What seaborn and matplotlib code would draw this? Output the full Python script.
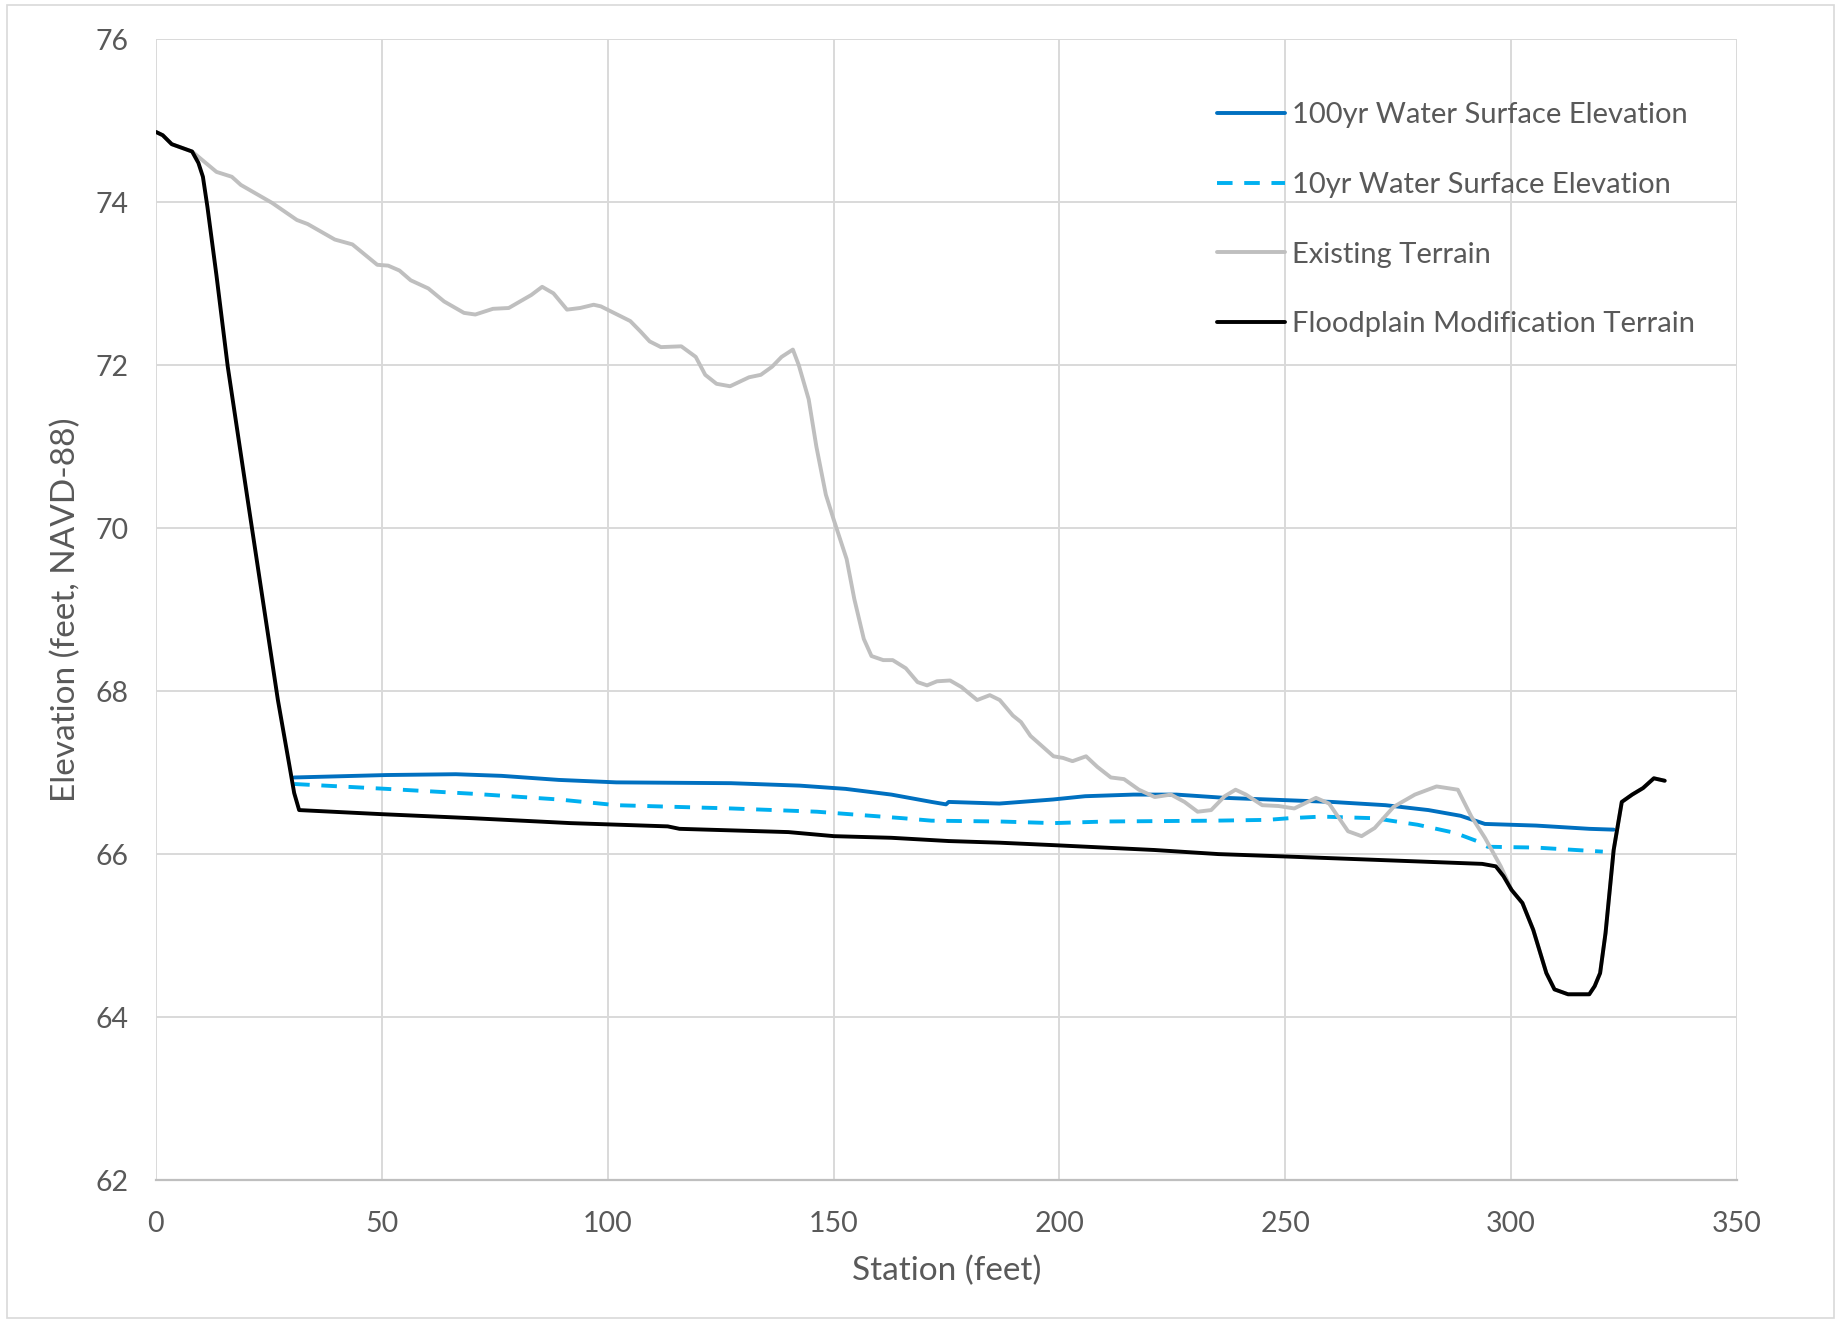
import matplotlib
matplotlib.use('Agg')
import matplotlib.pyplot as plt
import seaborn as sns
import pandas as pd
from matplotlib.patches import Rectangle

# Station / elevation values
existing_x = [0, 1.5, 3.5, 8, 13.4, 16.8, 18.8, 25.7, 31.2, 33.6, 39.6, 43.5, 49, 51.4, 53.9,
              56.4, 60.3, 63.8, 68.2, 70.7, 74.6, 78.1, 83.1, 85.5, 88, 91, 93.9, 96.9, 98.5,
              100.3, 105, 107.3, 109.3, 111.8, 116.3, 119.5, 121.6, 124.1, 127.1, 131.3, 133.9,
              136.4, 138.5, 141, 142.3, 144.5, 146.2, 148.3, 150, 152.9, 154.6, 156.7, 158.4,
              161, 163.1, 166, 168.6, 170.7, 172.9, 175.8, 178.3, 181.8, 184.6, 186.8, 189.7,
              191.5, 193.6, 198.7, 200.8, 202.9, 205.9, 208.4, 211.4, 214.3, 217.6, 221.1,
              224.7, 227.7, 230.6, 233.6, 236.6, 239, 241.3, 244.9, 248.5, 252, 256.8, 259.7,
              263.9, 266.9, 269.8, 274, 278.7, 283.5, 288.2, 291.2, 294.2, 297.7, 300.1, 302.5,
              304.9, 307.8, 309.6, 312.6, 317.3, 318.5, 319.7, 320.9, 322.7, 324.5, 326.8,
              329.2, 331.6, 334.0]
existing_y = [74.86, 74.82, 74.71, 74.62, 74.37, 74.31, 74.21, 73.99, 73.78, 73.73, 73.54, 73.48,
              73.23, 73.22, 73.16, 73.04, 72.94, 72.78, 72.64, 72.62, 72.69, 72.70, 72.86, 72.96,
              72.88, 72.68, 72.70, 72.74, 72.72, 72.67, 72.54, 72.41, 72.29, 72.22, 72.23, 72.10,
              71.88, 71.77, 71.74, 71.85, 71.88, 71.98, 72.10, 72.19, 72.0, 71.58, 71.0, 70.41,
              70.11, 69.62, 69.13, 68.64, 68.43, 68.38, 68.38, 68.28, 68.11, 68.07, 68.12, 68.13,
              68.05, 67.89, 67.95, 67.89, 67.70, 67.62, 67.45, 67.20, 67.18, 67.14, 67.20, 67.07,
              66.94, 66.92, 66.79, 66.70, 66.73, 66.64, 66.52, 66.54, 66.71, 66.79, 66.73, 66.60,
              66.59, 66.56, 66.69, 66.62, 66.28, 66.22, 66.32, 66.58, 66.73, 66.83, 66.79, 66.46,
              66.20, 65.85, 65.56, 65.40, 65.07, 64.54, 64.34, 64.28, 64.28, 64.38, 64.54, 65.03,
              66.05, 66.64, 66.73, 66.81, 66.93, 66.90]

modified_x = [0, 1.5, 3.5, 8, 9.4, 10.4, 11.4, 13.4, 15.9, 20.3, 27.0, 29.6, 30.6, 31.7, 49.9,
              70.2, 91.8, 113.3, 115.9, 140, 150.1, 162.8, 175.5, 186.7, 198.6, 221.1, 235.2,
              250.4, 264.9, 279.3, 293.6, 296.6, 298.3, 300.1, 302.5, 304.9, 307.8, 309.6, 312.6,
              317.3, 318.5, 319.7, 320.9, 322.7, 324.5, 326.8, 329.2, 331.6, 334.0]
modified_y = [74.86, 74.82, 74.71, 74.62, 74.48, 74.31, 73.94, 73.1, 71.98, 70.35, 67.89, 67.07,
              66.75, 66.54, 66.49, 66.44, 66.38, 66.34, 66.31, 66.27, 66.22, 66.20, 66.16, 66.14,
              66.11, 66.05, 66.00, 65.97, 65.94, 65.91, 65.88, 65.85, 65.73, 65.56, 65.40, 65.07,
              64.54, 64.34, 64.28, 64.28, 64.38, 64.54, 65.03, 66.05, 66.64, 66.73, 66.81, 66.93,
              66.90]

wse100_x = [30.6, 51.1, 66.4, 76.5, 89.2, 101.9, 127.3, 142.5, 152.7, 162.8, 171.7, 174.9, 175.5,
            186.7, 198.6, 205.7, 216.4, 225.9, 236.6, 246.1, 260.3, 272.2, 281.7, 288.8, 294.2,
            305.5, 317.3, 322.7]
wse100_y = [66.94, 66.97, 66.98, 66.96, 66.91, 66.88, 66.87, 66.84, 66.80, 66.73, 66.64, 66.61,
            66.64, 66.62, 66.67, 66.71, 66.73, 66.73, 66.69, 66.67, 66.64, 66.60, 66.54, 66.47,
            66.37, 66.35, 66.31, 66.30]

wse10_x = [30.6, 51.1, 70.2, 89.2, 101.9, 127.3, 146.3, 165.4, 171.7, 186.7, 198.6, 210.5, 234.2,
           246.1, 250.8, 258.0, 269.8, 279.3, 287.6, 292.4, 294.8, 305.5, 320.3]
wse10_y = [66.86, 66.80, 66.74, 66.67, 66.60, 66.56, 66.52, 66.44, 66.41, 66.40, 66.38, 66.40,
           66.41, 66.42, 66.44, 66.46, 66.44, 66.36, 66.26, 66.16, 66.09, 66.08, 66.03]

labels = ['100yr Water Surface Elevation', '10yr Water Surface Elevation',
          'Existing Terrain', 'Floodplain Modification Terrain']

sns.set_theme(style='whitegrid')
plt.rcParams['font.family'] = ['Lato', 'DejaVu Sans']
text_color = '#595959'

fig = plt.figure(figsize=(18.41, 13.23), dpi=100)
ax = fig.add_axes([0.0847, 0.108, 0.8588, 0.8625])

lw = 2.8
sns.lineplot(x=wse100_x, y=wse100_y, ax=ax, color='#0070C0', linewidth=lw,
             estimator=None, label=labels[0])
sns.lineplot(x=wse10_x, y=wse10_y, ax=ax, color='#00B0F0', linewidth=lw,
             estimator=None, label=labels[1], dashes=False)
ax.lines[-1].set_dashes((4, 3))
sns.lineplot(x=existing_x, y=existing_y, ax=ax, color='#BFBFBF', linewidth=lw,
             estimator=None, label=labels[2])
sns.lineplot(x=modified_x, y=modified_y, ax=ax, color='black', linewidth=lw,
             estimator=None, label=labels[3])

ax.set_xlim(0, 350)
ax.set_ylim(62, 76)
ax.set_xticks(range(0, 351, 50))
ax.set_yticks(range(62, 77, 2))
ax.set_facecolor('white')
ax.grid(True, color='#D9D9D9', linewidth=1.4)
for side in ['top', 'right', 'left']:
    ax.spines[side].set_visible(False)
ax.spines['bottom'].set_color('#BFBFBF')
ax.spines['bottom'].set_linewidth(1.6)
ax.tick_params(axis='both', length=0, labelsize=20.5, colors=text_color)
ax.tick_params(axis='y', pad=20)
ax.tick_params(axis='x', pad=22)

ax.set_xlabel('Station (feet)', fontsize=24, color=text_color, labelpad=14)
ax.set_ylabel('Elevation (feet, NAVD-88)', fontsize=24, color=text_color, labelpad=10)

leg = ax.legend(loc='upper left', bbox_to_anchor=(0.664, 0.955), frameon=False,
                fontsize=21, handlelength=2.3, handletextpad=0.25, labelspacing=1.5,
                borderaxespad=0)
for t in leg.get_texts():
    t.set_color(text_color)

# light chart-area border
fig.patches.append(Rectangle((0.004, 0.004), 0.992, 0.992, transform=fig.transFigure,
                             fill=False, edgecolor='#D9D9D9', linewidth=1.2))

plt.savefig('out.png', dpi=100)
plt.close()
